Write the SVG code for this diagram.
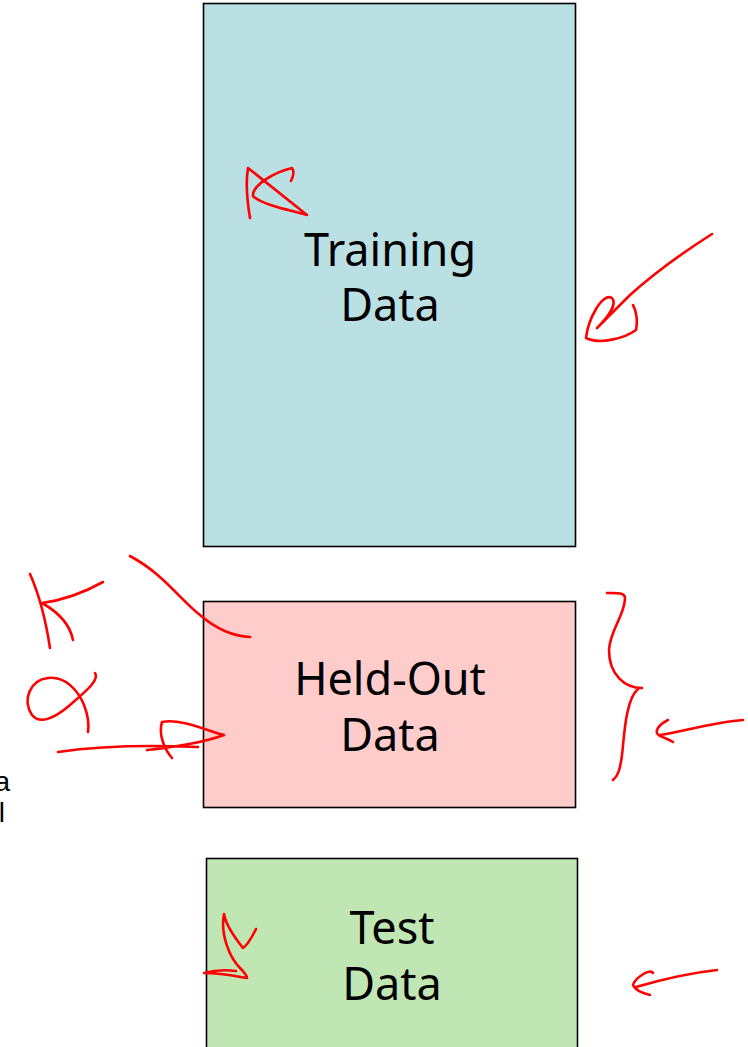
<svg xmlns="http://www.w3.org/2000/svg" width="748" height="1047" viewBox="0 0 748 1047">
<style>
.box{stroke:#000;stroke-width:1.6}
.lbl{font-family:"Noto Sans","Open Sans",sans-serif;font-size:45px;fill:#000;text-anchor:middle}
.cut{font-family:"Liberation Sans",Arial,sans-serif;font-size:28px;fill:#000;text-anchor:end}
.ink{fill:none;stroke:#ff0000;stroke-width:2.6;stroke-linecap:round;stroke-linejoin:round}
</style>
<rect width="748" height="1047" fill="#fff"/>
<g id="training">
<rect class="box" x="203.5" y="3.5" width="372" height="543" fill="#bae0e3"/>
<text class="lbl" x="390" y="266">Training</text>
<text class="lbl" x="390" y="321">Data</text>
</g>
<g id="heldout">
<rect class="box" x="203.5" y="601.5" width="372" height="206" fill="#ffcccc"/>
<text class="lbl" x="390" y="695">Held-Out</text>
<text class="lbl" x="390" y="751">Data</text>
</g>
<g id="test">
<rect class="box" x="206.5" y="858.5" width="371" height="200" fill="#c0e6b4"/>
<text class="lbl" x="392" y="944">Test</text>
<text class="lbl" x="392" y="1000">Data</text>
</g>
<g id="cut-text">
<text class="cut" x="10" y="791">a</text>
<text class="cut" x="5" y="822">l</text>
</g>
<g id="connectors">
<path class="ink" d="M250,218 C247,200 246,180 248,168 L307,215 C290,210 262,205 253,196 C252,185 275,172 292,168 C295,172 293,177 291,181"/>
<path class="ink" d="M712,234 C690,248 660,268 630,295 L597,328 C605,320 618,305 612,298 C602,292 588,320 586,338 C600,345 625,338 636,330 C638,320 636,310 633,305"/>
<path class="ink" d="M30,574 C38,592 45,615 50,648 M103,582 C85,592 65,600 42,603 C58,612 70,625 73,640"/>
<path class="ink" d="M130,556 C165,575 180,600 200,615 C215,628 230,636 250,637"/>
<path class="ink" d="M95,673 C100,680 85,692 70,705 C55,718 40,725 32,715 C22,700 30,680 48,678 C65,676 78,690 84,705 C88,715 89,725 88,732"/>
<path class="ink" d="M58,752 C100,746 150,745 198,747 M147,750 C175,747 205,742 224,735 C205,730 180,718 162,722 C158,735 165,750 172,758"/>
<path class="ink" d="M607,593 C615,593 625,592 625,598 C625,615 610,630 609,650 C609,675 625,688 642,688 M638,689 C625,700 624,740 622,755 C620,770 618,776 613,780"/>
<path class="ink" d="M743,720 C715,722 690,730 660,735 M668,720 C660,724 652,732 660,736 C665,738 670,740 673,742"/>
<path class="ink" d="M256,929 C252,937 248,945 243,948 C235,938 226,925 224,914 C220,935 230,958 240,968 C245,973 247,976 247,978 C235,976 220,973 204,973 C215,970 228,970 236,971"/>
<path class="ink" d="M717,970 C690,973 660,980 636,987 M653,973 C650,968 635,978 633,985 C635,990 642,993 650,995"/>
</g>
</svg>
